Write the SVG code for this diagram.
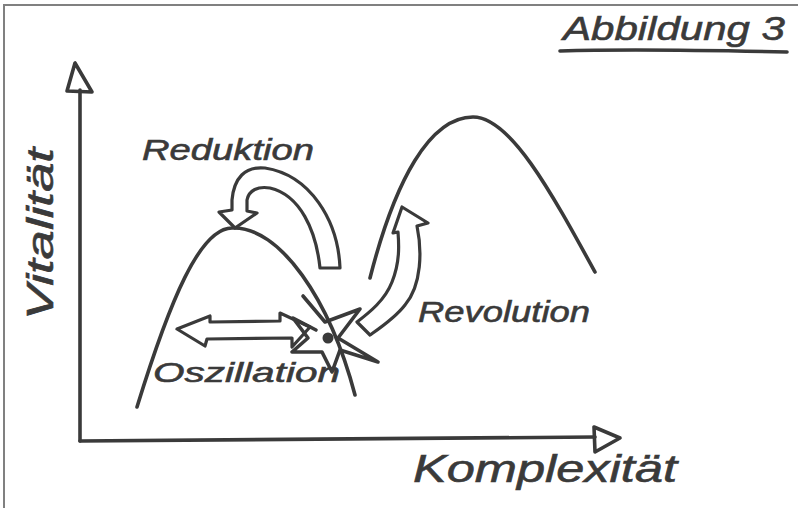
<svg xmlns="http://www.w3.org/2000/svg" width="798" height="508" viewBox="0 0 798 508">
<style>
.ink{fill:none;stroke:#3a3a3a;stroke-width:3.6;stroke-linecap:round;stroke-linejoin:round}
.hollow{fill:#fff;stroke:#3a3a3a;stroke-width:3.2;stroke-linejoin:round}
.hand{font-family:"Liberation Sans",Arial,sans-serif;font-style:italic;fill:#3a3a3a;stroke:#3a3a3a;stroke-width:0.6}
</style>
<rect width="798" height="508" fill="#fff"/>
<g id="frame">
<line x1="3" y1="5" x2="798" y2="5" stroke="#808080" stroke-width="2"/>
<line x1="4" y1="5" x2="4" y2="508" stroke="#808080" stroke-width="2"/>
</g>
<g id="title">
<text class="hand" x="563" y="40" font-size="34" textLength="222" lengthAdjust="spacingAndGlyphs">Abbildung 3</text>
<path class="ink" d="M560,51 C620,49 700,50 787,52"/>
</g>
<g id="connectors">
<g id="y-axis">
<path class="ink" d="M80,90 L80,441"/>
<path class="ink" d="M75,63 L67,91 L92,92 Z"/>
</g>
<g id="x-axis">
<path class="ink" d="M80,441 L595,437"/>
<path class="ink" d="M620,438 L594,427 L595,452 Z"/>
</g>
</g>
<g id="label-vitalitaet">
<text class="hand" transform="translate(53,320) rotate(-90)" font-size="36" textLength="172" lengthAdjust="spacingAndGlyphs">Vitalität</text>
</g>
<g id="label-komplexitaet">
<text class="hand" x="413" y="482" font-size="38" textLength="264" lengthAdjust="spacingAndGlyphs">Komplexität</text>
</g>
<g id="hump-left">
<path class="ink" d="M137,407 C170,300 200,228 232,228 C280,226 330,300 355,395"/>
</g>
<g id="hump-right">
<path class="ink" d="M370,278 C395,180 430,117 473,117 C510,117 550,190 595,272"/>
</g>
<g id="reduktion">
<path class="hollow" d="M340,268 C338,220 310,175 265,168 C245,166 234,178 232,200 L232,210 L219,212 L235,228 L257,213 L247,211 L247,200 C249,190 258,186 270,188 C300,195 316,230 320,268 Z"/>
<text class="hand" x="142" y="160" font-size="30" textLength="172" lengthAdjust="spacingAndGlyphs">Reduktion</text>
</g>
<g id="revolution">
<path class="hollow" d="M402,207 L428,223 L417,226 C422,250 422,285 405,305 C395,318 380,328 370,335 L357,322 C370,312 385,300 392,282 C400,262 399,245 398,232 L393,233 Z"/>
<text class="hand" x="418" y="322" font-size="30" textLength="172" lengthAdjust="spacingAndGlyphs">Revolution</text>
</g>
<g id="oszillation">
<path class="hollow" d="M177,329 L210,316 L210,322 L280,321 L280,313 L310,327 L292,347 L292,338 L207,339 L205,346 Z"/>
<text class="hand" x="153" y="382" font-size="28" textLength="187" lengthAdjust="spacingAndGlyphs">Oszillation</text>
</g>
<g id="crisis-star">
<path class="ink" d="M303,296 L325,322 L360,309 L338,338 L378,362 L340,350 L332,372 L322,352 L292,352 L308,338 L293,318 L316,330"/>
<circle cx="328" cy="338" r="5.5" fill="#3a3a3a"/>
</g>
</svg>
